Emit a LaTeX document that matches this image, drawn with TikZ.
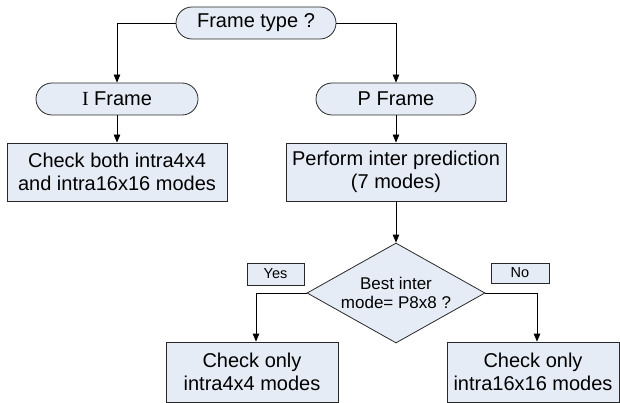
\documentclass[tikz,border=0pt]{standalone}
\usepackage{fontspec}
\setmainfont{Liberation Sans}
\newfontfamily\serifI{Liberation Serif}
\usetikzlibrary{shapes.geometric,arrows.meta,calc}
\definecolor{boxfill}{RGB}{230,236,246}
\definecolor{edge}{RGB}{40,40,40}
\begin{document}
\begin{tikzpicture}[x=1pt,y=-1pt,
  base/.style={draw=edge,fill=boxfill,line width=0.8pt,inner sep=0pt,align=center,
    font=\fontsize{20}{23}\selectfont},
  term/.style={base,rectangle,rounded corners=16pt,minimum height=32pt},
  proc/.style={base,rectangle},
  decis/.style={base,diamond},
  tag/.style={base,rectangle,font=\fontsize{14.5}{16}\selectfont},
  conn/.style={draw=black,line width=0.8pt,-{Triangle[length=8pt,width=6.5pt]}}]
\useasboundingbox (0,0) rectangle (620,403);
\node[term,minimum width=160pt] (ft) at (256,23) {Frame type ?};
\node[term,minimum width=162pt] (ifr) at (117,99) {{\serifI I} Frame};
\node[term,minimum width=160pt] (pfr) at (396,99) {P Frame};
\node[proc,minimum width=220pt,minimum height=58pt] (b1) at (117,172) {Check both intra4x4\\and intra16x16 modes};
\node[proc,minimum width=220pt,minimum height=58pt] (b2) at (396,172) {Perform inter prediction\\(7 modes)};
\node[decis,minimum width=178pt,minimum height=100pt,aspect=1.78] (dia) at (396,293) {};
\node[font=\fontsize{17}{19.5}\selectfont,align=center,inner sep=0pt] (diat) at (396,293) {Best inter\\mode= P8x8 ?};
\node[tag,minimum width=57pt,minimum height=22pt] (yes) at (275.5,274) {Yes};
\node[tag,minimum width=58pt,minimum height=20pt] (no) at (520,273) {No};
\node[proc,minimum width=172pt,minimum height=60pt] (b3) at (252,372) {Check only\\intra4x4 modes};
\node[proc,minimum width=172pt,minimum height=60pt] (b4) at (533,372) {Check only\\intra16x16 modes};
\draw[conn] (ft.west) -| (ifr.north);
\draw[conn] (ft.east) -| (pfr.north);
\draw[conn] (ifr.south) -- (b1.north);
\draw[conn] (pfr.south) -- (b2.north);
\draw[conn] (b2.south) -- (dia.north);
\draw[conn] (dia.west) -| ([xshift=4pt]b3.north);
\draw[conn] (dia.east) -| ([xshift=4pt]b4.north);
\end{tikzpicture}
\end{document}
